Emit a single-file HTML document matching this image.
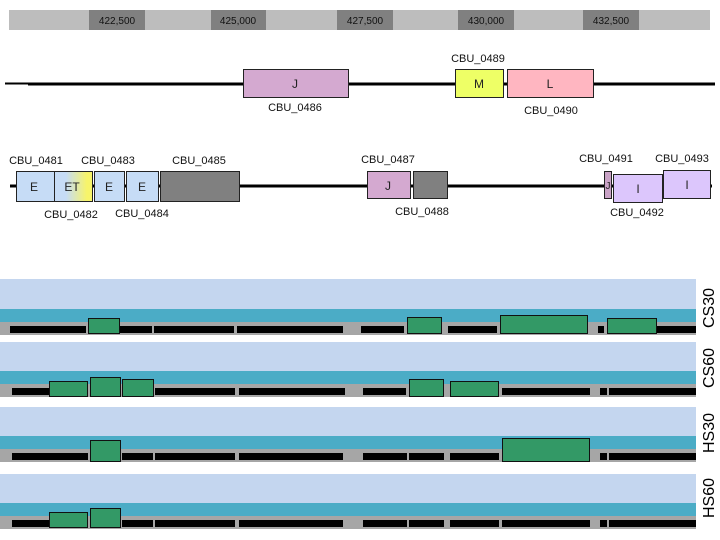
<!DOCTYPE html>
<html><head><meta charset="utf-8"><style>body{margin:0;background:#fff}svg{display:block}</style></head>
<body>
<svg width="720" height="540" xmlns="http://www.w3.org/2000/svg" font-family="Liberation Sans, sans-serif">
<defs><linearGradient id="et" x1="0" x2="1"><stop offset="0.3" stop-color="#c6dcf6"/><stop offset="0.85" stop-color="#f7f46a"/></linearGradient></defs>
<rect x="9" y="10" width="701" height="20" fill="#bdbdbd"/>
<g fill="#808080"><rect x="89" y="10" width="56" height="20"/><rect x="211" y="10" width="55" height="20"/><rect x="337" y="10" width="56" height="20"/><rect x="458" y="10" width="56" height="20"/><rect x="583" y="10" width="56" height="20"/></g>
<g font-size="10" fill="#111" text-anchor="middle"><text x="117" y="24">422,500</text><text x="238" y="24">425,000</text><text x="365" y="24">427,500</text><text x="486" y="24">430,000</text><text x="611" y="24">432,500</text></g>
<line x1="5" y1="83.5" x2="28" y2="83.5" stroke="#000" stroke-width="2"/>
<line x1="28" y1="84" x2="715" y2="84" stroke="#000" stroke-width="3"/>
<g stroke="#222" stroke-width="1">
<rect x="243.5" y="69.5" width="105" height="28" fill="#d4a9d0"/>
<rect x="455.5" y="69.5" width="48" height="28" fill="#eeff66"/>
<rect x="507.5" y="69.5" width="86" height="28" fill="#ffb6c1"/>
</g>
<g font-size="12" fill="#222" text-anchor="middle"><text x="295" y="88">J</text><text x="479" y="88">M</text><text x="550" y="88">L</text></g>
<g font-size="11" fill="#111" text-anchor="middle"><text x="295" y="111">CBU_0486</text><text x="478" y="62">CBU_0489</text><text x="551" y="114">CBU_0490</text></g>
<line x1="10" y1="186" x2="712" y2="186" stroke="#000" stroke-width="3"/>
<g stroke="#222" stroke-width="1">
<rect x="16.5" y="171.5" width="38" height="30" fill="#c6dcf6"/>
<rect x="54.5" y="171.5" width="38" height="30" fill="url(#et)"/>
<rect x="94.5" y="171.5" width="30" height="30" fill="#c6dcf6"/>
<rect x="126.5" y="171.5" width="32" height="30" fill="#c6dcf6"/>
<rect x="160.5" y="171.5" width="79" height="30" fill="#808080"/>
<rect x="367.5" y="171.5" width="43" height="27" fill="#d4a9d0"/>
<rect x="413.5" y="171.5" width="34" height="27" fill="#808080"/>
<rect x="604.5" y="171.5" width="7" height="27" fill="#c9a3c6"/>
<rect x="613.5" y="174.5" width="49" height="28" fill="#dcc6fc"/>
<rect x="663.5" y="170.5" width="47" height="28" fill="#dcc6fc"/>
</g>
<g font-size="12" fill="#222" text-anchor="middle"><text x="34" y="191">E</text><text x="72" y="191">ET</text><text x="109" y="191">E</text><text x="142" y="191">E</text><text x="388" y="190">J</text><text x="608" y="189" font-size="10">J</text><text x="638" y="193">I</text><text x="687" y="189">I</text></g>
<g font-size="11" fill="#111" text-anchor="middle"><text x="36" y="164">CBU_0481</text><text x="108" y="164">CBU_0483</text><text x="199" y="164">CBU_0485</text><text x="388" y="163">CBU_0487</text><text x="606" y="162">CBU_0491</text><text x="682" y="162">CBU_0493</text>
<text x="71" y="218">CBU_0482</text><text x="142" y="217">CBU_0484</text><text x="422" y="215">CBU_0488</text><text x="637" y="216">CBU_0492</text></g>
<!-- tracks -->
<g id="t1">
<rect x="0" y="279" width="696" height="30" fill="#c4d6ef"/><rect x="0" y="309" width="696" height="13" fill="#4bacc6"/><rect x="0" y="322" width="696" height="13" fill="#a6a6a6"/>
<g fill="#000"><rect x="10" y="326" width="76" height="7"/><rect x="120" y="326" width="32" height="7"/><rect x="154" y="326" width="80" height="7"/><rect x="237" y="326" width="106" height="7"/><rect x="361" y="326" width="43" height="7"/><rect x="448" y="326" width="49" height="7"/><rect x="598" y="326" width="6" height="7"/><rect x="656" y="326" width="40" height="7"/></g>
<g fill="#339966" stroke="#111"><rect x="88.5" y="318.5" width="31" height="15"/><rect x="407.5" y="317.5" width="34" height="16"/><rect x="500.5" y="315.5" width="87" height="18"/><rect x="607.5" y="318.5" width="49" height="15"/></g>
</g>
<g>
<rect x="0" y="342" width="696" height="29" fill="#c4d6ef"/><rect x="0" y="371" width="696" height="13" fill="#4bacc6"/><rect x="0" y="384" width="696" height="13" fill="#a6a6a6"/>
<g fill="#000"><rect x="12" y="388" width="37" height="7"/><rect x="155" y="388" width="80" height="7"/><rect x="239" y="388" width="106" height="7"/><rect x="363" y="388" width="43" height="7"/><rect x="502" y="388" width="88" height="7"/><rect x="600" y="388" width="7" height="7"/><rect x="609" y="388" width="87" height="7"/></g>
<g fill="#339966" stroke="#111"><rect x="49.5" y="381.5" width="38" height="15"/><rect x="90.5" y="377.5" width="30" height="19"/><rect x="122.5" y="379.5" width="31" height="17"/><rect x="409.5" y="379.5" width="34" height="17"/><rect x="450.5" y="381.5" width="48" height="15"/></g>
</g>
<g>
<rect x="0" y="407" width="696" height="29" fill="#c4d6ef"/><rect x="0" y="436" width="696" height="13" fill="#4bacc6"/><rect x="0" y="449" width="696" height="13" fill="#a6a6a6"/>
<g fill="#000"><rect x="12" y="453" width="76" height="7"/><rect x="122" y="453" width="31" height="7"/><rect x="155" y="453" width="80" height="7"/><rect x="239" y="453" width="104" height="7"/><rect x="363" y="453" width="44" height="7"/><rect x="409" y="453" width="35" height="7"/><rect x="450" y="453" width="49" height="7"/><rect x="600" y="453" width="7" height="7"/><rect x="609" y="453" width="87" height="7"/></g>
<g fill="#339966" stroke="#111"><rect x="90.5" y="440.5" width="30" height="21"/><rect x="502.5" y="438.5" width="87" height="23"/></g>
</g>
<g>
<rect x="0" y="474" width="696" height="29" fill="#c4d6ef"/><rect x="0" y="503" width="696" height="13" fill="#4bacc6"/><rect x="0" y="516" width="696" height="13" fill="#a6a6a6"/>
<g fill="#000"><rect x="12" y="520" width="37" height="7"/><rect x="122" y="520" width="31" height="7"/><rect x="155" y="520" width="80" height="7"/><rect x="239" y="520" width="104" height="7"/><rect x="363" y="520" width="44" height="7"/><rect x="409" y="520" width="35" height="7"/><rect x="450" y="520" width="49" height="7"/><rect x="502" y="520" width="88" height="7"/><rect x="600" y="520" width="7" height="7"/><rect x="609" y="520" width="87" height="7"/></g>
<g fill="#339966" stroke="#111"><rect x="49.5" y="512.5" width="38" height="15"/><rect x="90.5" y="508.5" width="30" height="19"/></g>
</g>
<g font-size="16" fill="#000" text-anchor="middle">
<text transform="translate(714,308) rotate(-90)">CS30</text>
<text transform="translate(714,368) rotate(-90)">CS60</text>
<text transform="translate(714,433) rotate(-90)">HS30</text>
<text transform="translate(714,498) rotate(-90)">HS60</text>
</g>
</svg>
</body></html>
